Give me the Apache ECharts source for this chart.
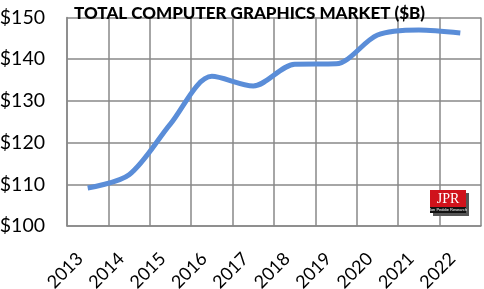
<!DOCTYPE html>
<html><head><meta charset="utf-8">
<script src="https://cdn.jsdelivr.net/npm/echarts@6/dist/echarts.min.js"></script>
<style>html,body{margin:0;padding:0;background:#fff}#c{width:484px;height:289px}</style>
</head><body><div id="c"></div>
<script>
const years = ['2013','2014','2015','2016','2017','2018','2019','2020','2021','2022'];
const market = [109.1, 112.3, 124.5, 135.9, 133.6, 138.8, 138.9, 145.8, 147, 146.3];
const yTicks = [100, 110, 120, 130, 140, 150];
const titleText = 'TOTAL COMPUTER GRAPHICS MARKET ($B)';

const chart = echarts.init(document.getElementById('c'), null, {renderer: 'canvas'});
chart.setOption({
  animation: false,
  title: {text: titleText, left: 69, top: 0,
    textStyle: {fontFamily: 'Lato', fontWeight: 900, fontSize: 17, color: '#000'}},
  grid: {left: 67, right: 3, top: 17.5, bottom: 63, containLabel: false, outerBoundsMode: 'none'},
  xAxis: {type: 'category', data: years, boundaryGap: true,
    axisLine: {lineStyle: {color: '#888', width: 1.5}},
    axisTick: {show: false},
    splitLine: {show: true, lineStyle: {color: '#888', width: 1.5}},
    axisLabel: {rotate: 45, fontFamily: 'Lato', fontSize: 18, color: '#000', margin: 22, padding: [0, 11, 0, 0], interval: 0}},
  yAxis: {type: 'value', min: yTicks[0], max: yTicks[yTicks.length-1], interval: 10,
    axisLine: {show: true, lineStyle: {color: '#888', width: 1.5}},
    axisTick: {show: false},
    splitLine: {lineStyle: {color: '#888', width: 1.5}},
    axisLabel: {formatter: v => '$' + v, fontFamily: 'Lato', fontSize: 19.5, color: '#000', margin: 22}},
  series: [{type: 'line', data: market, smooth: 0.3, symbol: 'none',
    lineStyle: {color: '#5A8DD8', width: 5}}],
  graphic: [
    {type: 'rect', shape: {x: 433, y: 193, width: 36, height: 23}, style: {fill: '#555'}, z: 9},
    {type: 'rect', shape: {x: 430, y: 190, width: 36, height: 23}, style: {fill: '#d0121b'}, z: 10},
    {type: 'rect', shape: {x: 430, y: 207, width: 36, height: 6}, style: {fill: '#111'}, z: 11},
    {type: 'text', style: {x: 448, y: 199, text: 'JPR', fill: '#fff', font: '14px "Liberation Serif"', align: 'center', verticalAlign: 'middle'}, z: 12},
    {type: 'text', style: {x: 448, y: 210, text: 'Jon Peddie Research', fill: '#fff', font: '4px "Liberation Sans"', align: 'center', verticalAlign: 'middle'}, z: 12}
  ]
});
</script></body></html>
